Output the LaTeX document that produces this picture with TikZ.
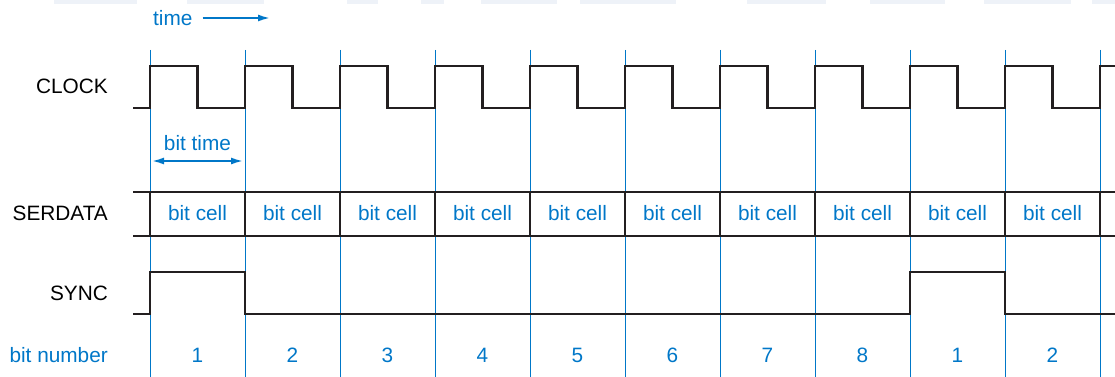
\documentclass[tikz,border=0pt]{standalone}
\usepackage{fontspec}
\setmainfont{Liberation Sans}
\usetikzlibrary{arrows.meta}
\definecolor{tblue}{RGB}{0,119,200}
\definecolor{wave}{RGB}{35,31,32}
\definecolor{faint}{RGB}{238,242,248}
\tikzset{
  lbl/.style={anchor=east,inner sep=0pt,font=\fontsize{20.8}{24}\selectfont,text=black},
  bluetxt/.style={inner sep=0pt,font=\fontsize{20.8}{24}\selectfont,text=tblue},
  grid/.style={draw=tblue,line width=1pt},
  sig/.style={draw=wave,line width=2.5pt,line join=miter},
  barrow/.style={draw=tblue,line width=1.8pt},
  tip/.style={Latex[length=12pt,width=7pt]},
}
\begin{document}
\begin{tikzpicture}[x=1pt,y=-1pt]
\useasboundingbox (0,0) rectangle (1115,377);
% faint shapes at the top edge
\foreach \a/\b in {54/137,187/264,347/378,421/444,481/557,580/676,747/826,870/945,984/1071,1092/1115}
  \fill[faint] (\a,0) rectangle (\b,4);
% blue grid lines
\foreach \k in {0,...,10}
  \draw[grid] ({150+95*\k},50) -- ({150+95*\k},377);
% labels
\node[lbl] (clk) at (108,86) {CLOCK};
\node[lbl] (ser) at (108,213) {SERDATA};
\node[lbl] (syn) at (108,293) {SYNC};
\node[bluetxt,anchor=east] (bn) at (108,355) {bit number};
% time arrow
\node[bluetxt,anchor=west] (time) at (153,18) {time};
\coordinate (tend) at (270,18);
\draw[barrow,-{Latex[length=12pt,width=7pt]}] ([xshift=10pt]time.east) -- (tend);
% bit time
\node[bluetxt] (bt) at (197.5,143) {bit time};
\coordinate (btl) at (152,161);
\coordinate (btr) at (243,161);
\draw[barrow,{Latex[length=12pt,width=7pt]}-{Latex[length=12pt,width=7pt]}] (btl) -- (btr);
% clock waveform
\draw[sig] (133,108) -- (150,108)
  \foreach \k in {0,...,9} { -- ({150+95*\k},66) -- ({197.5+95*\k},66) -- ({197.5+95*\k},108) -- ({245+95*\k},108) }
  -- (1100,66) -- (1115,66);
% serdata
\draw[sig] (133,192) -- (1115,192);
\draw[sig] (133,236) -- (1115,236);
\foreach \k in {0,...,10}
  \draw[sig] ({150+95*\k},192) -- ({150+95*\k},236);
\foreach \k in {0,...,9}
  \node[bluetxt] (cell\k) at ({197.5+95*\k},213) {bit cell};
% sync
\draw[sig] (133,314) -- (150,314) -- (150,272) -- (245,272) -- (245,314) -- (910,314) -- (910,272) -- (1005,272) -- (1005,314) -- (1115,314);
% bit numbers
\foreach \n [count=\k from 0] in {1,2,3,4,5,6,7,8,1,2}
  \node[bluetxt] (num\k) at ({197.5+95*\k},355) {\n};
\end{tikzpicture}
\end{document}
